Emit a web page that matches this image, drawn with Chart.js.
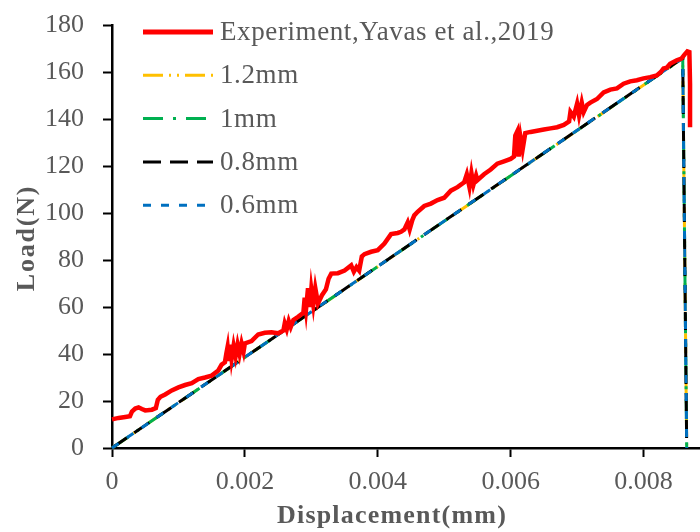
<!DOCTYPE html>
<html>
<head>
<meta charset="utf-8">
<script src="https://cdn.jsdelivr.net/npm/chart.js@4.4.1/dist/chart.umd.min.js"></script>
<style>
  body { margin: 0; background: #fff; }
  #wrap { width: 700px; height: 532px; }
</style>
</head>
<body>
<div id="wrap"><canvas id="loadChart" width="700" height="532"></canvas></div>
<script>
// measured load-displacement curve
const expDisp = [0, 0.0001, 0.0002, 0.00027, 0.0003, 0.00035, 0.0004, 0.00045, 0.0005, 0.0006,
    0.00066, 0.00069, 0.00073, 0.0008, 0.0009, 0.001, 0.0011, 0.0012, 0.0013, 0.0014,
    0.0015, 0.0016, 0.00165, 0.0017, 0.00172, 0.00174, 0.00176, 0.00178, 0.0018, 0.00183,
    0.00186, 0.00189, 0.00192, 0.00195, 0.00198, 0.002, 0.0021, 0.0022, 0.0023, 0.0024,
    0.0025, 0.00258, 0.0026, 0.00263, 0.00266, 0.00269, 0.00273, 0.0028, 0.00288, 0.0029,
    0.00292, 0.00295, 0.00298, 0.003, 0.00303, 0.00306, 0.0031, 0.00316, 0.00322, 0.00326,
    0.0033, 0.0034, 0.0035, 0.0036, 0.00364, 0.00368, 0.00372, 0.00376, 0.0038, 0.0039,
    0.004, 0.0041, 0.0042, 0.0043, 0.00435, 0.0044, 0.00445, 0.00448, 0.00452, 0.00455,
    0.0046, 0.0047, 0.0048, 0.0049, 0.005, 0.0051, 0.0052, 0.0053, 0.00534, 0.00538,
    0.00541, 0.00544, 0.00548, 0.0055, 0.0056, 0.0057, 0.0058, 0.0059, 0.006, 0.00605,
    0.00607, 0.0061, 0.00612, 0.00615, 0.00618, 0.00622, 0.0063, 0.0064, 0.0065, 0.0066,
    0.0067, 0.0068, 0.00688, 0.0069, 0.00695, 0.007, 0.00703, 0.00707, 0.0071, 0.00715,
    0.0072, 0.0073, 0.0074, 0.0075, 0.0076, 0.0077, 0.0078, 0.0079, 0.008, 0.0081,
    0.0082, 0.00826, 0.0083, 0.00835, 0.0084, 0.0085, 0.00857, 0.00862, 0.00866, 0.00869,
    0.0087, 0.0087];
const expLoad = [12.2, 12.8, 13.2, 13.5, 15.5, 16.8, 17.3, 16.6, 16.0, 16.3,
    17.0, 20.5, 21.8, 22.8, 24.5, 25.8, 26.8, 27.6, 29.3, 30.0,
    30.8, 33.0, 35.5, 36.5, 40, 43, 37, 44, 38, 43.5,
    39, 44, 40, 44.5, 41, 44.5, 45.5, 48.3, 49, 49.2,
    48.8, 50, 53, 50.5, 54, 51.5, 54.5, 55.8, 57.5, 64,
    59, 68, 60, 67.5, 61, 68, 61.5, 65, 67.5, 72,
    74.2, 74.4, 75.5, 77.7, 75, 77, 75.5, 81.5, 82.5, 83.5,
    84.2, 87, 91, 91.5, 92, 93, 96, 93, 97, 99,
    100.5, 103, 104, 105.5, 106.5, 109.5, 111, 113, 116.5, 111,
    117, 112, 116, 114, 116.5, 118.5, 121, 122, 123, 124,
    133, 134.8, 124, 132, 127, 134, 134.5, 135, 135.5, 136,
    136.5, 137.5, 139, 143, 141, 146.5, 141.5, 147, 143, 146,
    147, 148.5, 151.3, 152.5, 153, 155, 156, 156.5, 157.3, 157.8,
    158.5, 160, 161.5, 161.8, 163.5, 165, 165.7, 167.5, 168.8, 168.5,
    155, 136.5];

// simulated curves (mesh sizes) - linear rise then sudden failure
const simDisp = [0, 0.00859, 0.00865];
const sim12Load = [0, 165.8, 0];
const sim10Load = [0, 165.8, 0];
const sim08Load = [0, 165.9, 0];
const sim06Load = [0, 165.9, 0];

const seriesLabels = ['Experiment,Yavas et al.,2019', '1.2mm', '1mm', '0.8mm', '0.6mm'];

const xTicks = [0, 0.002, 0.004, 0.006, 0.008];
const xTickLabels = ['0', '0.002', '0.004', '0.006', '0.008'];
const yTicks = [0, 20, 40, 60, 80, 100, 120, 140, 160, 180];

const xTitle = 'Displacement(mm)';
const yTitle = 'Load(N)';

const GREY = '#595959';
const SERIF = '"Liberation Serif", "Times New Roman", serif';

Chart.defaults.font.family = SERIF;

function toPoints(xs, ys) {
    return xs.map((x, i) => ({ x: x, y: ys[i] }));
}

// legend inside the plot (top-left) and the two axis titles, drawn with
// a little letter spacing so the serif text keeps its wide look
const annotations = {
    id: 'annotations',
    afterDraw(chart) {
        const ctx = chart.ctx;
        const x0 = 143, x1 = 213, textX = 220;
        let y = 32;
        ctx.save();
        chart.data.datasets.forEach(ds => {
            ctx.beginPath();
            ctx.strokeStyle = ds.borderColor;
            ctx.lineWidth = ds.legendWidth || ds.borderWidth;
            ctx.setLineDash(ds.borderDash || []);
            ctx.moveTo(x0, y);
            ctx.lineTo(x1, y);
            ctx.stroke();
            ctx.setLineDash([]);
            ctx.fillStyle = GREY;
            ctx.font = '27px ' + SERIF;
            ctx.letterSpacing = '0.6px';
            ctx.textBaseline = 'middle';
            ctx.textAlign = 'left';
            ctx.fillText(ds.label, textX, y + 1);
            y += 43.3;
        });

        ctx.fillStyle = GREY;
        ctx.font = 'bold 26px ' + SERIF;
        ctx.textAlign = 'center';
        ctx.textBaseline = 'alphabetic';
        ctx.letterSpacing = '1.2px';
        ctx.fillText(xTitle, 392, 523);

        ctx.translate(34, 238);
        ctx.rotate(-Math.PI / 2);
        ctx.letterSpacing = '1.8px';
        ctx.fillText(yTitle, 0, 0);
        ctx.restore();
    }
};

function simDataset(label, loads, color, dash, order) {
    return {
        label: label,
        data: toPoints(simDisp, loads),
        borderColor: color,
        borderWidth: 3,
        borderDash: dash,
        pointRadius: 0,
        tension: 0,
        clip: false,
        order: order
    };
}

const chart = new Chart(document.getElementById('loadChart'), {
    type: 'line',
    data: {
        datasets: [
            {
                label: seriesLabels[0],
                data: toPoints(expDisp, expLoad),
                borderColor: '#FF0000',
                borderWidth: 4.5,
                legendWidth: 5,
                pointRadius: 0,
                tension: 0,
                clip: false,
                order: 0
            },
            simDataset(seriesLabels[1], sim12Load, '#FFC000', [20, 6, 2, 6, 2, 6], 4),
            simDataset(seriesLabels[2], sim10Load, '#00B050', [20, 10, 3, 10], 3),
            simDataset(seriesLabels[3], sim08Load, '#000000', [18, 9], 2),
            simDataset(seriesLabels[4], sim06Load, '#0070C0', [8, 10], 1)
        ]
    },
    options: {
        responsive: false,
        animation: false,
        layout: { padding: { top: 25, right: 0, left: 0, bottom: 0 } },
        plugins: {
            legend: { display: false },
            tooltip: { enabled: false }
        },
        scales: {
            x: {
                type: 'linear',
                min: 0,
                max: 0.00885,
                afterBuildTicks: scale => { scale.ticks = xTicks.map(v => ({ value: v })); },
                afterFit: scale => {
                    scale.height = 84;
                    scale.paddingRight = 0;
                },
                border: { display: true, color: '#000', width: 2.5 },
                grid: { drawOnChartArea: false, drawTicks: true, tickLength: 9, tickWidth: 2, tickColor: '#000' },
                ticks: {
                    color: GREY,
                    font: { size: 26 },
                    padding: 10,
                    maxRotation: 0,
                    callback: (value, index) => xTickLabels[index]
                }
            },
            y: {
                min: 0,
                max: 180,
                afterBuildTicks: scale => { scale.ticks = yTicks.map(v => ({ value: v })); },
                afterFit: scale => {
                    scale.width = 112;
                    scale.paddingTop = 0;
                    scale.paddingBottom = 0;
                },
                border: { display: true, color: '#000', width: 2.5 },
                grid: { drawOnChartArea: false, drawTicks: true, tickLength: 9, tickWidth: 2, tickColor: '#000' },
                ticks: {
                    color: GREY,
                    font: { size: 26 },
                    padding: 19
                }
            }
        }
    },
    plugins: [annotations]
});
</script>
</body>
</html>
